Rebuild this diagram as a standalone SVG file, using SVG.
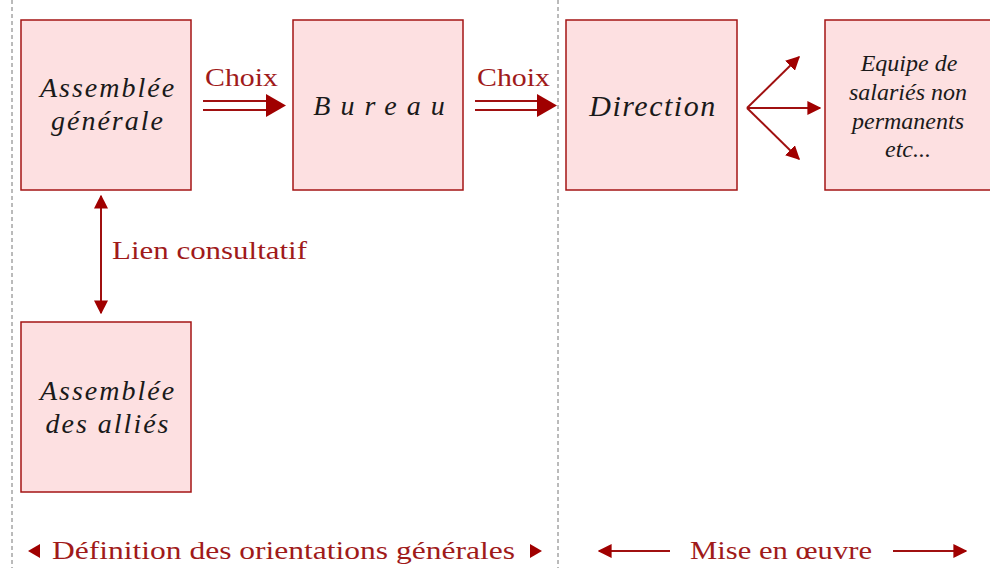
<svg xmlns="http://www.w3.org/2000/svg" width="990" height="568" viewBox="0 0 990 568">
<style>
.box{fill:#fde0e1;stroke:#a41515;stroke-width:1.5}
.bt{font-family:"Liberation Serif",serif;font-style:italic;fill:#1a1a1a;text-anchor:middle}
.lbl{font-family:"Liberation Serif",serif;fill:#a01a1a;font-size:26px}
.ln{stroke:#a01010;stroke-width:2;fill:none}
.dash{stroke:#777;stroke-width:1;stroke-dasharray:4,3}
.hd{fill:#a00000}
</style>
<defs>
<marker id="ahs" viewBox="0 0 10 10" refX="9" refY="5" markerWidth="14" markerHeight="14" orient="auto-start-reverse" markerUnits="userSpaceOnUse">
<path d="M0,0 L10,5 L0,10 z" class="hd"/>
</marker>
</defs>
<rect width="990" height="568" fill="#fff"/>
<line class="dash" x1="12" y1="0" x2="12" y2="568"/>
<line class="dash" x1="558" y1="0" x2="558" y2="568"/>

<g id="ag"><rect class="box" x="21" y="20" width="170" height="170"/>
<text class="bt" font-size="28" letter-spacing="2" x="108" y="97">Assemblée</text>
<text class="bt" font-size="28" letter-spacing="2" x="108" y="130">générale</text></g>
<g id="bureau"><rect class="box" x="293" y="20" width="170" height="170"/>
<text class="bt" font-size="28" letter-spacing="10" x="384" y="115">Bureau</text></g>
<g id="direction"><rect class="box" x="566" y="20" width="171" height="170"/>
<text class="bt" font-size="30" letter-spacing="1.5" x="653" y="116">Direction</text></g>
<g id="equipe"><rect class="box" x="825" y="20" width="175" height="170"/>
<text class="bt" font-size="24" x="909" y="71">Equipe de</text>
<text class="bt" font-size="24" x="908" y="100">salariés non</text>
<text class="bt" font-size="24" x="908" y="129">permanents</text>
<text class="bt" font-size="24" x="908" y="157">etc...</text></g>
<g id="allies"><rect class="box" x="21" y="322" width="170" height="170"/>
<text class="bt" font-size="28" letter-spacing="2" x="108" y="400">Assemblée</text>
<text class="bt" font-size="28" letter-spacing="2" x="108" y="433">des alliés</text></g>

<g id="connectors">
<line class="ln" x1="203" y1="101" x2="270" y2="101"/>
<line class="ln" x1="203" y1="110" x2="270" y2="110"/>
<path class="hd" d="M266,94 L286,105.5 L266,117 z"/>
<text class="lbl" x="205" y="86" textLength="73" lengthAdjust="spacingAndGlyphs">Choix</text>
<line class="ln" x1="475" y1="101" x2="540" y2="101"/>
<line class="ln" x1="475" y1="110" x2="540" y2="110"/>
<path class="hd" d="M537,94 L557,105.5 L537,117 z"/>
<text class="lbl" x="477" y="86" textLength="73" lengthAdjust="spacingAndGlyphs">Choix</text>
<line class="ln" x1="747" y1="108" x2="799" y2="57" stroke-width="1.5" marker-end="url(#ahs)"/>
<line class="ln" x1="747" y1="108" x2="820" y2="108" stroke-width="1.5" marker-end="url(#ahs)"/>
<line class="ln" x1="747" y1="108" x2="799" y2="159" stroke-width="1.5" marker-end="url(#ahs)"/>
<line class="ln" x1="101" y1="196" x2="101" y2="313" stroke-width="1.5" marker-start="url(#ahs)" marker-end="url(#ahs)"/>
<text class="lbl" x="112" y="259" textLength="195" lengthAdjust="spacingAndGlyphs">Lien consultatif</text>
</g>

<g id="footer">
<path class="hd" d="M40,544 L28,551 L40,558 z"/>
<text class="lbl" x="52" y="559" textLength="463" lengthAdjust="spacingAndGlyphs">Définition des orientations générales</text>
<path class="hd" d="M530,544 L542,551 L530,558 z"/>
<line class="ln" x1="599" y1="551" x2="670" y2="551" stroke-width="1.5" marker-start="url(#ahs)"/>
<text class="lbl" x="690" y="559" textLength="182" lengthAdjust="spacingAndGlyphs">Mise en œuvre</text>
<line class="ln" x1="893" y1="551" x2="966" y2="551" stroke-width="1.5" marker-end="url(#ahs)"/>
</g>
</svg>
